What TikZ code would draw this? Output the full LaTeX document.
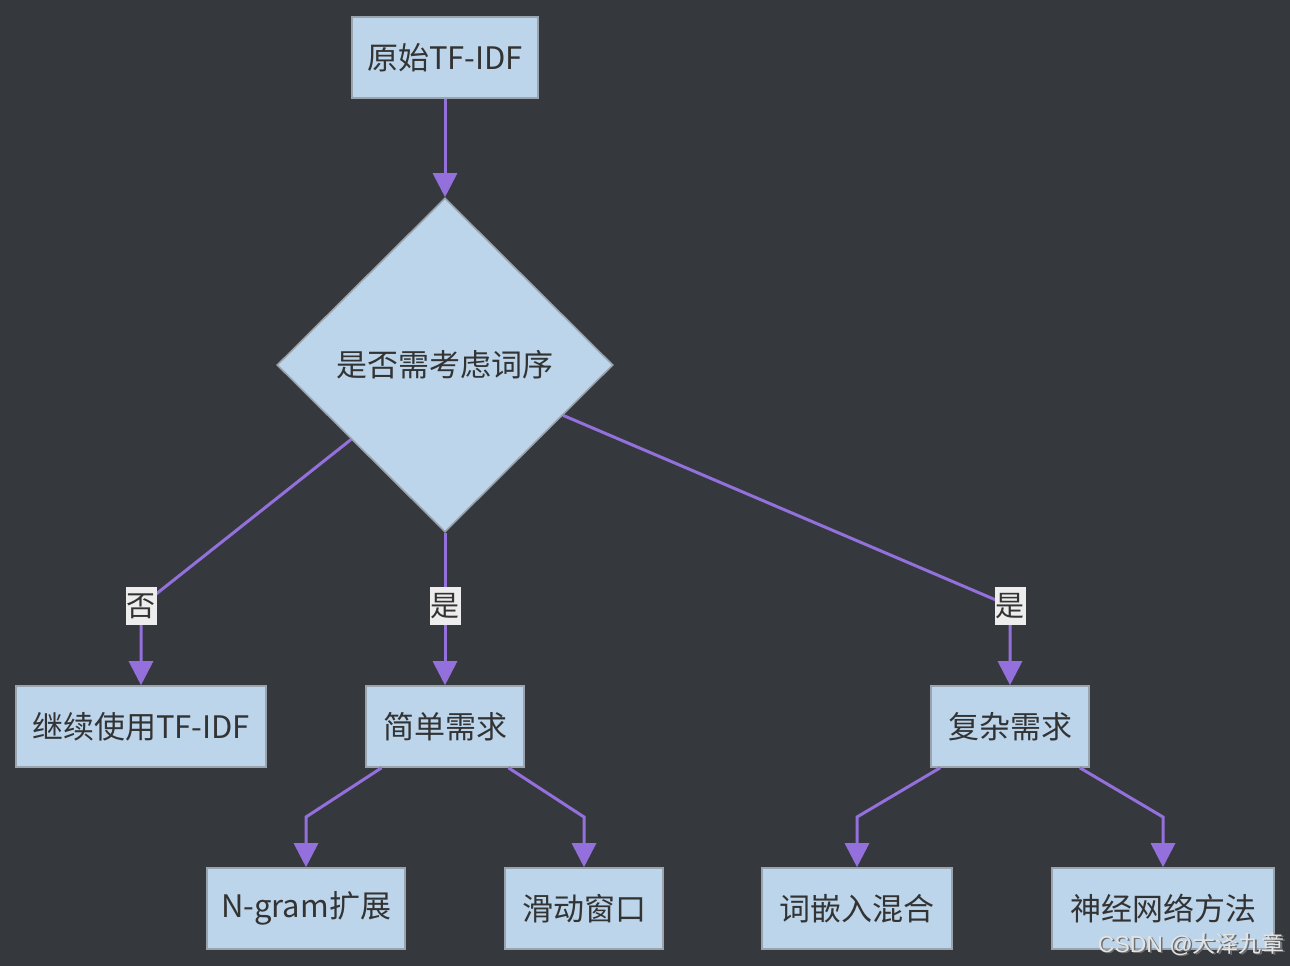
\documentclass[tikz,border=0pt]{standalone}
\usepackage{fontspec}
\newfontfamily\cjk{Noto Sans CJK SC}
\newfontfamily\lat{Liberation Sans}
\usetikzlibrary{arrows.meta,shapes.geometric}
\definecolor{bgcol}{HTML}{35393E}
\definecolor{nodefill}{HTML}{BCD5EA}
\definecolor{nodeborder}{HTML}{9AA4AE}
\definecolor{edgecol}{HTML}{9370DB}
\definecolor{textcol}{HTML}{333333}
\definecolor{labelbg}{HTML}{EDEDED}
\definecolor{wmcol}{HTML}{E4E4E4}
\definecolor{wmshadow}{HTML}{707070}
\tikzset{
  box/.style={draw=nodeborder, fill=nodefill, line width=1.6pt, text=textcol,
    font=\cjk\fontsize{31}{36}\selectfont, minimum height=81pt, inner sep=0pt},
  dia/.style={diamond, draw=nodeborder, fill=nodefill, line width=1.6pt, text=textcol,
    font=\cjk\fontsize{31}{36}\selectfont, minimum width=336pt, minimum height=334pt, inner sep=0pt},
  edge/.style={draw=edgecol, line width=3pt, -{Triangle[length=24pt,width=24pt]}},
  lab/.style={fill=labelbg, text=textcol, font=\cjk\fontsize{29}{32}\selectfont,
    inner sep=0pt, minimum width=31pt, minimum height=38pt},
  wm/.style={font=\cjk\fontsize{23}{24}\selectfont, anchor=east, inner sep=0pt}
}
\begin{document}
\begin{tikzpicture}[x=1pt,y=-1pt]
\fill[bgcol] (0,0) rectangle (1290,966);
\useasboundingbox (0,0) rectangle (1290,966);

\node[box, minimum width=186pt] (A) at (445,57.5) {原始TF-IDF};
\node[dia] (Q) at (445,365) {是否需考虑词序};
\node[box, minimum width=250pt] (B) at (141,726.5) {继续使用TF-IDF};
\node[box, minimum width=158pt] (C) at (445,726.5) {简单需求};
\node[box, minimum width=158pt] (D) at (1010,726.5) {复杂需求};
\node[box, minimum width=198pt] (E) at (306,908.5) {N-gram扩展};
\node[box, minimum width=158pt] (F) at (584,908.5) {滑动窗口};
\node[box, minimum width=190pt] (G) at (857,908.5) {词嵌入混合};
\node[box, minimum width=222pt] (H) at (1163,908.5) {神经网络方法};

\coordinate (bB) at (141,606);
\coordinate (bD) at (1010,606);
\coordinate (bE) at (306,817);
\coordinate (bF) at (584,817);
\coordinate (bG) at (857,817);
\coordinate (bH) at (1163,817);

\draw[edge] (A) -- (Q);
\draw[edge] (Q) -- (bB) -- (B);
\draw[edge] (Q) -- (C);
\draw[edge] (Q) -- (bD) -- (D);
\draw[edge] (C) -- (bE) -- (E);
\draw[edge] (C) -- (bF) -- (F);
\draw[edge] (D) -- (bG) -- (G);
\draw[edge] (D) -- (bH) -- (H);

\node[lab] (l1) at (bB) {否};
\node[lab] (l2) at (445,606) {是};
\node[lab] (l3) at (bD) {是};

\node[wm, text=wmshadow] (wms) at (1286.5,945.5) {{\lat CSDN @}大泽九章};
\node[wm, text=wmcol] (wm) at (1285,944) {{\lat CSDN @}大泽九章};
\end{tikzpicture}
\end{document}
